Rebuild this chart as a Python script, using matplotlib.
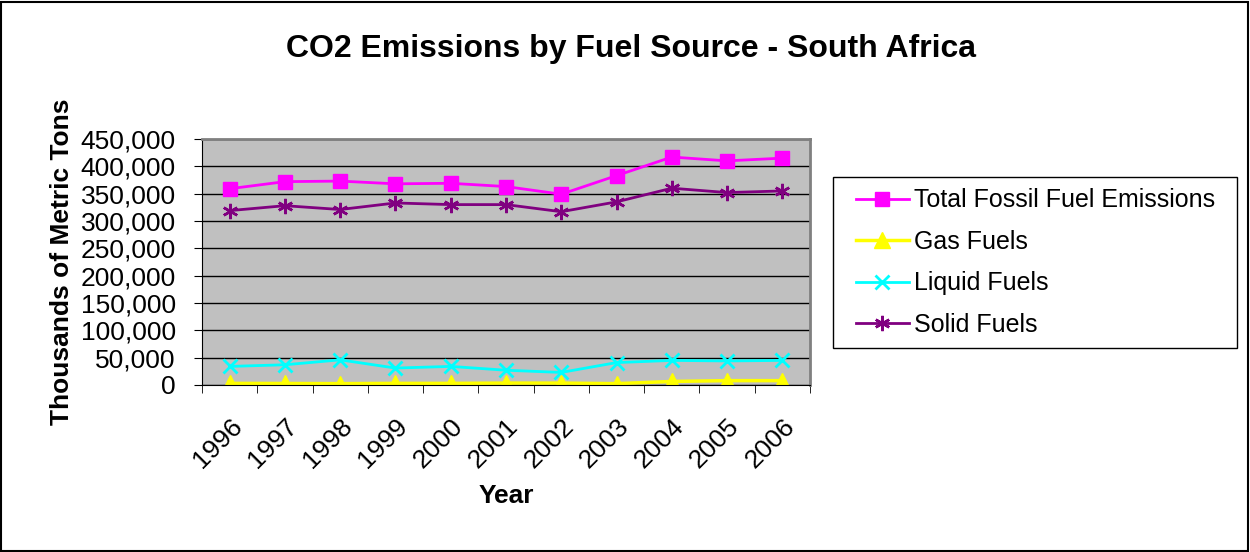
import matplotlib.pyplot as plt
import numpy as np
from matplotlib.ticker import FuncFormatter, FixedLocator

plt.rcParams['font.family'] = ['Liberation Sans', 'DejaVu Sans']

years = ['1996', '1997', '1998', '1999', '2000', '2001', '2002', '2003', '2004', '2005', '2006']
total = [359000, 372000, 373000, 368000, 369000, 363000, 349000, 383000, 417000, 410000, 415000]
gas = [3000, 2800, 2500, 3000, 3000, 3500, 3500, 2500, 6500, 8000, 8000]
liquid = [34000, 37000, 46000, 31000, 34000, 27000, 23000, 41000, 45000, 44000, 45000]
solid = [319000, 328000, 321000, 333000, 330000, 330000, 317000, 335000, 360000, 352000, 355000]

W, H = 1250, 552
fig = plt.figure(figsize=(12.5, 5.52), dpi=100)
fig.patches.append(plt.Rectangle((0.001, 0.002), 0.997, 0.995, transform=fig.transFigure,
                                 fill=False, edgecolor='black', linewidth=1.5))
ax = fig.add_axes([202 / W, 1 - 385 / H, 608 / W, 246 / H])
ax.set_facecolor('#c0c0c0')

x = np.arange(len(years))
ax.plot(x, total, color='#ff00ff', marker='s', markersize=9.5, linewidth=2, label='Total Fossil Fuel Emissions')
ax.plot(x, gas, color='#ffff00', marker='^', markersize=12, linewidth=2.5, label='Gas Fuels')
ax.plot(x, liquid, color='#00ffff', marker='x', markersize=10, markeredgewidth=2, linewidth=2, label='Liquid Fuels')
ax.plot(x, solid, color='#800080', marker=(6, 2, 0), markersize=11, markeredgewidth=1.8, linewidth=2, label='Solid Fuels')

ax.set_xlim(-0.5, len(years) - 0.5)
ax.set_ylim(0, 450000)
ax.set_yticks(np.arange(0, 450001, 50000))
ax.yaxis.set_major_formatter(FuncFormatter(lambda v, p: f'{int(v):,}'))
ax.yaxis.grid(True, color='black', linewidth=1)
ax.set_axisbelow(True)

ax.set_xticks(x)
ax.set_xticklabels(years, rotation=45, ha='right', rotation_mode='anchor', fontsize=19)
ax.xaxis.set_minor_locator(FixedLocator(np.arange(-0.5, len(years), 1)))
ax.tick_params(axis='x', which='major', length=0, pad=21)
ax.tick_params(axis='x', which='minor', length=5.8, color='black')
ax.tick_params(axis='y', labelsize=19, length=5.8, color='black', pad=13)

for side in ['top', 'right']:
    ax.spines[side].set_color('#808080')
    ax.spines[side].set_linewidth(2)
ax.spines['left'].set_color('black')
ax.spines['bottom'].set_color('black')

ax.set_xlabel('Year', fontsize=19, fontweight='bold', labelpad=8)
ax.set_ylabel('Thousands of Metric Tons', fontsize=19, fontweight='bold', labelpad=5)
fig.text(0.505, 1 - 49 / H, 'CO2 Emissions by Fuel Source - South Africa', ha='center', va='center',
         fontsize=23, fontweight='bold')

# legend box drawn separately (below the axes), legend itself frameless
fig.patches.append(plt.Rectangle((833 / W, 1 - 348 / H), 404 / W, 171 / H, transform=fig.transFigure,
                                 fill=True, facecolor='white', edgecolor='black', linewidth=1, zorder=-1))
leg = ax.legend(loc='center left', bbox_to_anchor=(856 / W, 1 - 262.5 / H), bbox_transform=fig.transFigure,
                fontsize=18, frameon=False, handlelength=2.1, labelspacing=0.7, borderpad=0,
                handletextpad=0.2, borderaxespad=0)

fig.savefig('out.png', dpi=100)
